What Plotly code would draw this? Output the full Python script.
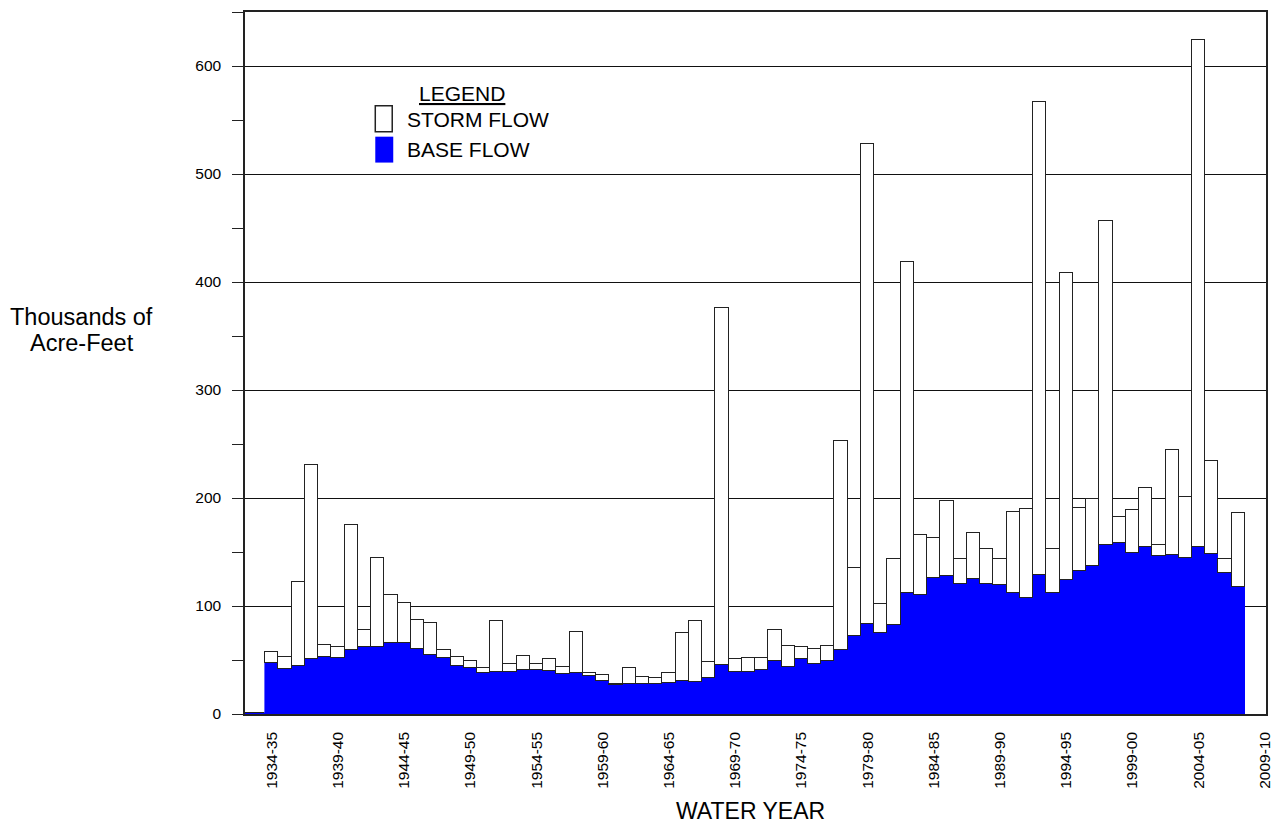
import plotly.graph_objects as go

# Water year start (1932 = 1932-33, ... 2007 = 2007-08)
year_start = list(range(1932, 2008))

# Base flow (thousands of acre-feet)
base_flow = [0.5, 0.5,
             47.1, 41.5, 44.6, 50.5, 52.6, 52.3, 59.4, 62.5, 62.2, 65.9,
             65.6, 60.1, 54.8, 52.3, 44.9, 43.0, 38.4, 38.7, 38.7, 40.5,
             40.8, 39.9, 37.4, 37.7, 35.0, 31.0, 27.0, 27.9, 28.2, 28.2,
             28.8, 31.0, 29.4, 33.4, 45.1, 39.0, 39.0, 40.8, 49.3, 43.7,
             50.8, 46.2, 48.9, 59.1, 72.3, 83.1, 75.4, 82.2, 112.3, 109.8,
             125.5, 127.4, 120.6, 124.6, 120.3, 119.7, 112.0, 107.6, 128.3, 111.7,
             124.0, 132.3, 137.2, 156.6, 158.8, 148.9, 154.2, 146.5, 146.8, 144.0,
             154.8, 148.3, 130.8, 117.2]

# Storm flow (thousands of acre-feet), stacked on base flow
storm_flow = [0.2, 0.2,
              9.9, 11.4, 77.7, 180.2, 10.9, 9.6, 115.2, 15.2, 82.7, 44.0,
              36.9, 26.9, 29.7, 6.8, 8.0, 6.5, 4.0, 47.4, 7.3, 13.5,
              5.8, 11.3, 6.2, 38.4, 2.7, 4.9, 0.6, 14.4, 5.8, 4.9,
              9.5, 44.2, 56.5, 14.5, 330.9, 11.9, 13.1, 11.3, 28.7, 19.1,
              11.4, 13.8, 14.5, 193.8, 62.5, 444.6, 26.8, 61.5, 305.9, 55.7,
              37.9, 70.1, 22.8, 42.8, 32.6, 24.0, 74.8, 82.4, 438.5, 40.9,
              284.0, 58.5, 61.6, 299.7, 24.0, 40.0, 55.0, 10.4, 97.5, 57.2,
              468.9, 85.9, 12.3, 68.6]

tick_years = [1934, 1939, 1944, 1949, 1954, 1959, 1964, 1969, 1974,
              1979, 1984, 1989, 1994, 1999, 2004, 2009]
tick_labels = ["1934-35", "1939-40", "1944-45", "1949-50", "1954-55",
               "1959-60", "1964-65", "1969-70", "1974-75", "1979-80",
               "1984-85", "1989-90", "1994-95", "1999-00", "2004-05", "2009-10"]
y_ticks = [0, 100, 200, 300, 400, 500, 600]
y_minor_ticks = [50, 150, 250, 350, 450, 550, 650]

FONT = "Liberation Sans, Arial, Helvetica, sans-serif"

fig = go.Figure()
fig.add_trace(go.Bar(
    x=year_start, y=base_flow, width=1, name="BASE FLOW",
    marker=dict(color="#0000FF", line=dict(color="#0000FF", width=0.6)),
))
fig.add_trace(go.Bar(
    x=year_start, y=storm_flow, width=1, name="STORM FLOW",
    marker=dict(color="#FFFFFF", line=dict(color="#222222", width=1.5)),
))

fig.update_layout(
    width=1283, height=826,
    margin=dict(l=245, r=15, t=10, b=112),
    barmode="stack", bargap=0,
    showlegend=False,
    paper_bgcolor="white", plot_bgcolor="white",
    font=dict(family=FONT, color="black"),
)

fig.update_xaxes(
    range=[1931.98, 2009.09],
    tickmode="array", tickvals=tick_years, ticktext=tick_labels,
    tickangle=-90, tickfont=dict(size=15.5, family=FONT, color="black"),
    ticks="", showgrid=False, zeroline=False,
    showline=True, linecolor="#222222", linewidth=1.5, mirror=True,
    ticklabelstandoff=10,
)
fig.update_yaxes(
    range=[0, 650.01],
    tickmode="array", tickvals=y_ticks,
    tickfont=dict(size=15.5, family=FONT, color="black"),
    ticks="outside", ticklen=11, tickcolor="#222222", tickwidth=1.2,
    minor=dict(ticks="outside", ticklen=11, tickcolor="#222222", tickwidth=1.2,
               tickmode="array", tickvals=y_minor_ticks, showgrid=False),
    showgrid=True, gridcolor="#111111", gridwidth=1.2,
    zeroline=False,
    showline=True, linecolor="#222222", linewidth=1.5, mirror=True,
    ticklabelstandoff=8,
)

annotations = [
    dict(text="Thousands of", x=-0.16, y=0.5654, xref="paper", yref="paper",
         xanchor="center", yanchor="middle", showarrow=False,
         font=dict(size=23.5, family=FONT, color="black")),
    dict(text="Acre-Feet", x=-0.16, y=0.5284, xref="paper", yref="paper",
         xanchor="center", yanchor="middle", showarrow=False,
         font=dict(size=23.5, family=FONT, color="black")),
    dict(text="WATER YEAR", x=0.495, y=-0.1385, xref="paper", yref="paper",
         xanchor="center", yanchor="middle", showarrow=False,
         font=dict(size=23, family=FONT, color="black")),
    dict(text="<u>LEGEND</u>", x=0.2126, y=0.8835, xref="paper", yref="paper",
         xanchor="center", yanchor="middle", showarrow=False,
         font=dict(size=21, family=FONT, color="black")),
    dict(text="STORM FLOW", x=0.1569, y=0.8466, xref="paper", yref="paper",
         xanchor="left", yanchor="middle", showarrow=False,
         font=dict(size=21, family=FONT, color="black")),
    dict(text="BASE FLOW", x=0.1569, y=0.804, xref="paper", yref="paper",
         xanchor="left", yanchor="middle", showarrow=False,
         font=dict(size=21, family=FONT, color="black")),
]
fig.update_layout(annotations=annotations)

fig.update_layout(shapes=[
    dict(type="rect", xref="paper", yref="paper",
         x0=0.1276, x1=0.1442, y0=0.8295, y1=0.8665,
         fillcolor="white", line=dict(color="#222222", width=1.5)),
    dict(type="rect", xref="paper", yref="paper",
         x0=0.1276, x1=0.1452, y0=0.7855, y1=0.8224,
         fillcolor="#0000FF", line=dict(width=0)),
])

fig.write_html("out.html",
               config={"displayModeBar": False},
               post_script="document.body.style.margin='0';document.body.style.overflow='hidden';")
